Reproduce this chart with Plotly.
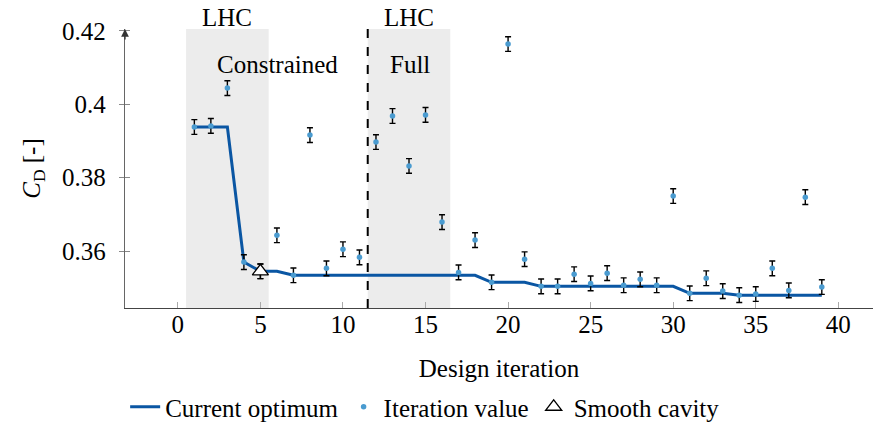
import plotly.graph_objects as go

iterations = list(range(1, 40))
iteration_values = [0.3938, 0.3941, 0.4044, 0.3570, 0.3545, 0.3643, 0.3534, 0.3916, 0.3553, 0.3605,
                    0.3583, 0.3897, 0.3968, 0.3832, 0.3971, 0.3679, 0.3542, 0.3630, 0.3515, 0.4164,
                    0.3578, 0.3504, 0.3504, 0.3537, 0.3512, 0.3540, 0.3507, 0.3523, 0.3507, 0.3750,
                    0.3485, 0.3526, 0.3491, 0.3480, 0.3483, 0.3553, 0.3493, 0.3747, 0.3502]
iteration_errors = [0.002] * 39
current_optimum = [0.3938, 0.3938, 0.3938, 0.3570, 0.3545, 0.3545, 0.3534, 0.3534, 0.3534, 0.3534,
                   0.3534, 0.3534, 0.3534, 0.3534, 0.3534, 0.3534, 0.3534, 0.3534, 0.3515, 0.3515,
                   0.3515, 0.3504, 0.3504, 0.3504, 0.3504, 0.3504, 0.3504, 0.3504, 0.3504, 0.3504,
                   0.3485, 0.3485, 0.3485, 0.3480, 0.3480, 0.3480, 0.3480, 0.3480, 0.3480]
smooth_x = [5]
smooth_y = [0.3545]
smooth_err = [0.002]
lhc_constrained = (0.5, 5.5)
lhc_full = (11.5, 16.5)
x_ticks = [0, 5, 10, 15, 20, 25, 30, 35, 40]
y_ticks = [0.36, 0.38, 0.40, 0.42]
y_tick_labels = ["0.36", "0.38", "0.4", "0.42"]

FONT = "Liberation Serif"
FS = 25
fig = go.Figure()

for (x0, x1) in [lhc_constrained, lhc_full]:
    fig.add_shape(type="rect", xref="x", yref="y", x0=x0, x1=x1, y0=0.3445, y1=0.4205,
                  fillcolor="#ececec", line_width=0, layer="below")

fig.add_trace(go.Scatter(x=iterations, y=current_optimum, mode="lines", name="Current optimum",
                         line=dict(color="#0a56a3", width=3)))
fig.add_trace(go.Scatter(x=iterations, y=iteration_values, mode="markers", name="Iteration value",
                         marker=dict(color="#4a9bd0", size=5.5),
                         error_y=dict(type="data", array=iteration_errors, color="black",
                                      thickness=1.4, width=3)))
fig.add_trace(go.Scatter(x=smooth_x, y=smooth_y, mode="markers", name="Smooth cavity",
                         marker=dict(symbol="triangle-up", size=14, color="white",
                                     line=dict(color="black", width=1.3)),
                         error_y=dict(type="data", array=smooth_err, color="black",
                                      thickness=1.4, width=3)))

fig.add_vline(x=lhc_full[0], line=dict(color="black", width=2, dash="dash"))

tf = dict(family=FONT, size=FS, color="black")
fig.add_annotation(x=3, y=1.0, yref="paper", yshift=12, text="LHC", showarrow=False,
                   yanchor="middle", font=tf, borderpad=0)
fig.add_annotation(x=14, y=1.0, yref="paper", yshift=12, text="LHC", showarrow=False,
                   yanchor="middle", font=tf, borderpad=0)
fig.add_annotation(x=6.06, y=0.4107, text="Constrained", showarrow=False, font=tf)
fig.add_annotation(x=14.06, y=0.4107, text="Full", showarrow=False, font=tf)
# arrow head on top of the y axis
fig.add_annotation(x=0, xref="paper", y=0.4205, yref="y", ax=0, ay=12, text="",
                   showarrow=True, arrowhead=2, arrowsize=1.2, arrowwidth=1.3, arrowcolor="#333")

fig.update_layout(
    width=873, height=430,
    margin=dict(l=125, r=0, t=29, b=122, autoexpand=False),
    plot_bgcolor="white", paper_bgcolor="white",
    font=dict(family=FONT, size=FS, color="black"),
    showlegend=True,
    legend=dict(orientation="h", x=0.487, xref="container", xanchor="center", y=-0.02, yref="container",
                yanchor="bottom", font=dict(family=FONT, size=FS), itemwidth=30,
                traceorder="normal"),
    xaxis=dict(range=[-3.2, 42.1], tickvals=x_ticks, ticks="inside", ticklen=6, tickcolor="#aaa",
               showline=True, linecolor="#444", linewidth=1.3, showgrid=False, zeroline=False,
               automargin=False, tickfont=dict(family=FONT, size=FS),
               title=dict(text="Design iteration", standoff=22, font=dict(family=FONT, size=FS)),
               ticklabelstandoff=-6),
    yaxis=dict(range=[0.3445, 0.4205], tickvals=y_ticks, ticktext=y_tick_labels, ticks="outside",
               ticklen=5, tickcolor="#888", showline=True, linecolor="#666", linewidth=1.3,
               showgrid=False, zeroline=False, ticklabelstandoff=8, automargin=False,
               tickfont=dict(family=FONT, size=FS),
               title=dict(text="<i>C</i><sub>D</sub> [-]", standoff=14,
                          font=dict(family=FONT, size=FS))),
    yaxis2=dict(range=[0.3445, 0.4205], tickvals=y_ticks, ticks="inside", ticklen=5,
                tickcolor="#888", showticklabels=False, overlaying="y", side="left",
                showgrid=False, zeroline=False, showline=False, automargin=False),
)
fig.add_trace(go.Scatter(x=[None], y=[None], yaxis="y2", showlegend=False, hoverinfo="skip"))
fig.write_html("out.html", config={"displayModeBar": False},
               post_script="document.body.style.margin='0';")
